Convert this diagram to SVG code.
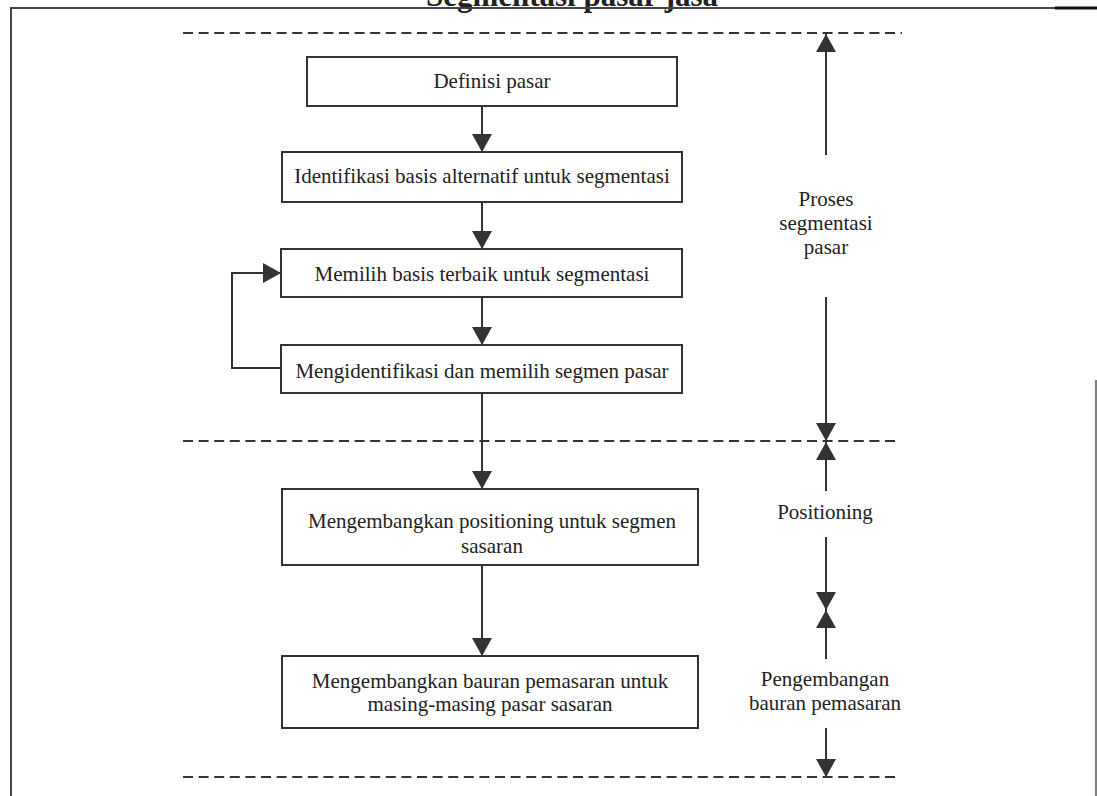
<svg xmlns="http://www.w3.org/2000/svg" width="1097" height="796" viewBox="0 0 1097 796">
<style>
.box{fill:#fff;stroke:#333;stroke-width:2}
.t{font-family:"Liberation Serif","Times New Roman",serif;font-size:21px;fill:#222;text-anchor:middle}
.ttl{font-family:"Liberation Serif","Times New Roman",serif;font-size:31px;font-weight:bold;fill:#222;text-anchor:middle}
.dash{stroke:#333;stroke-width:2;stroke-dasharray:10 5.6;fill:none}
.c{stroke:#333;stroke-width:2;fill:none;marker-end:url(#ah)}
.frame{stroke:#444;stroke-width:2;fill:none}
</style>
<defs>
<marker id="ah" viewBox="0 0 18 20" refX="18" refY="10" markerWidth="18" markerHeight="20" orient="auto" markerUnits="userSpaceOnUse">
<path d="M0,0 L18,10 L0,20 z" fill="#333"/>
</marker>
</defs>
<rect width="1097" height="796" fill="#fff"/>
<g id="title">
<text class="ttl" x="572" y="6">Segmentasi pasar jasa</text>
</g>
<g id="frame">
<path class="frame" d="M11,796 V8 H1097"/>
<line x1="1055" y1="8" x2="1097" y2="8" stroke="#111" stroke-width="3"/>
<line x1="1096" y1="380" x2="1096" y2="796" stroke="#555" stroke-width="1.5"/>
</g>
<g id="dividers">
<line class="dash" x1="183" y1="33" x2="902" y2="33"/>
<line class="dash" x1="183" y1="441" x2="900" y2="441"/>
<line class="dash" x1="183" y1="777" x2="900" y2="777"/>
</g>
<g id="n1"><rect class="box" x="307" y="57" width="370" height="49"/><text class="t" x="492" y="88">Definisi pasar</text></g>
<g id="n2"><rect class="box" x="282" y="152" width="400" height="50"/><text class="t" x="482" y="183">Identifikasi basis alternatif untuk segmentasi</text></g>
<g id="n3"><rect class="box" x="281" y="249" width="401" height="48"/><text class="t" x="482" y="281">Memilih basis terbaik untuk segmentasi</text></g>
<g id="n4"><rect class="box" x="281" y="345" width="401" height="48"/><text class="t" x="482" y="378">Mengidentifikasi dan memilih segmen pasar</text></g>
<g id="n5"><rect class="box" x="282" y="489" width="416" height="76"/><text class="t" x="492" y="528">Mengembangkan positioning untuk segmen</text><text class="t" x="492" y="553">sasaran</text></g>
<g id="n6"><rect class="box" x="282" y="656" width="416" height="72"/><text class="t" x="490" y="688">Mengembangkan bauran pemasaran untuk</text><text class="t" x="490" y="711">masing-masing pasar sasaran</text></g>
<g id="l1"><text class="t" x="826" y="206">Proses</text><text class="t" x="826" y="230">segmentasi</text><text class="t" x="826" y="254">pasar</text></g>
<g id="l2"><text class="t" x="825" y="519">Positioning</text></g>
<g id="l3"><text class="t" x="825" y="686">Pengembangan</text><text class="t" x="825" y="710">bauran pemasaran</text></g>
<g id="connectors">
<line class="c" x1="482" y1="106" x2="482" y2="152"/>
<line class="c" x1="482" y1="202" x2="482" y2="249"/>
<line class="c" x1="482" y1="297" x2="482" y2="345"/>
<line class="c" x1="482" y1="393" x2="482" y2="489"/>
<line class="c" x1="482" y1="565" x2="482" y2="656"/>
<path class="c" d="M281,368 H232 V273 H281"/>
<line class="c" x1="826" y1="155" x2="826" y2="34"/>
<line class="c" x1="826" y1="297" x2="826" y2="441"/>
<line class="c" x1="826" y1="491" x2="826" y2="442"/>
<line class="c" x1="826" y1="537" x2="826" y2="610"/>
<line class="c" x1="826" y1="659" x2="826" y2="610"/>
<line class="c" x1="826" y1="728" x2="826" y2="777"/>
</g>
</svg>
